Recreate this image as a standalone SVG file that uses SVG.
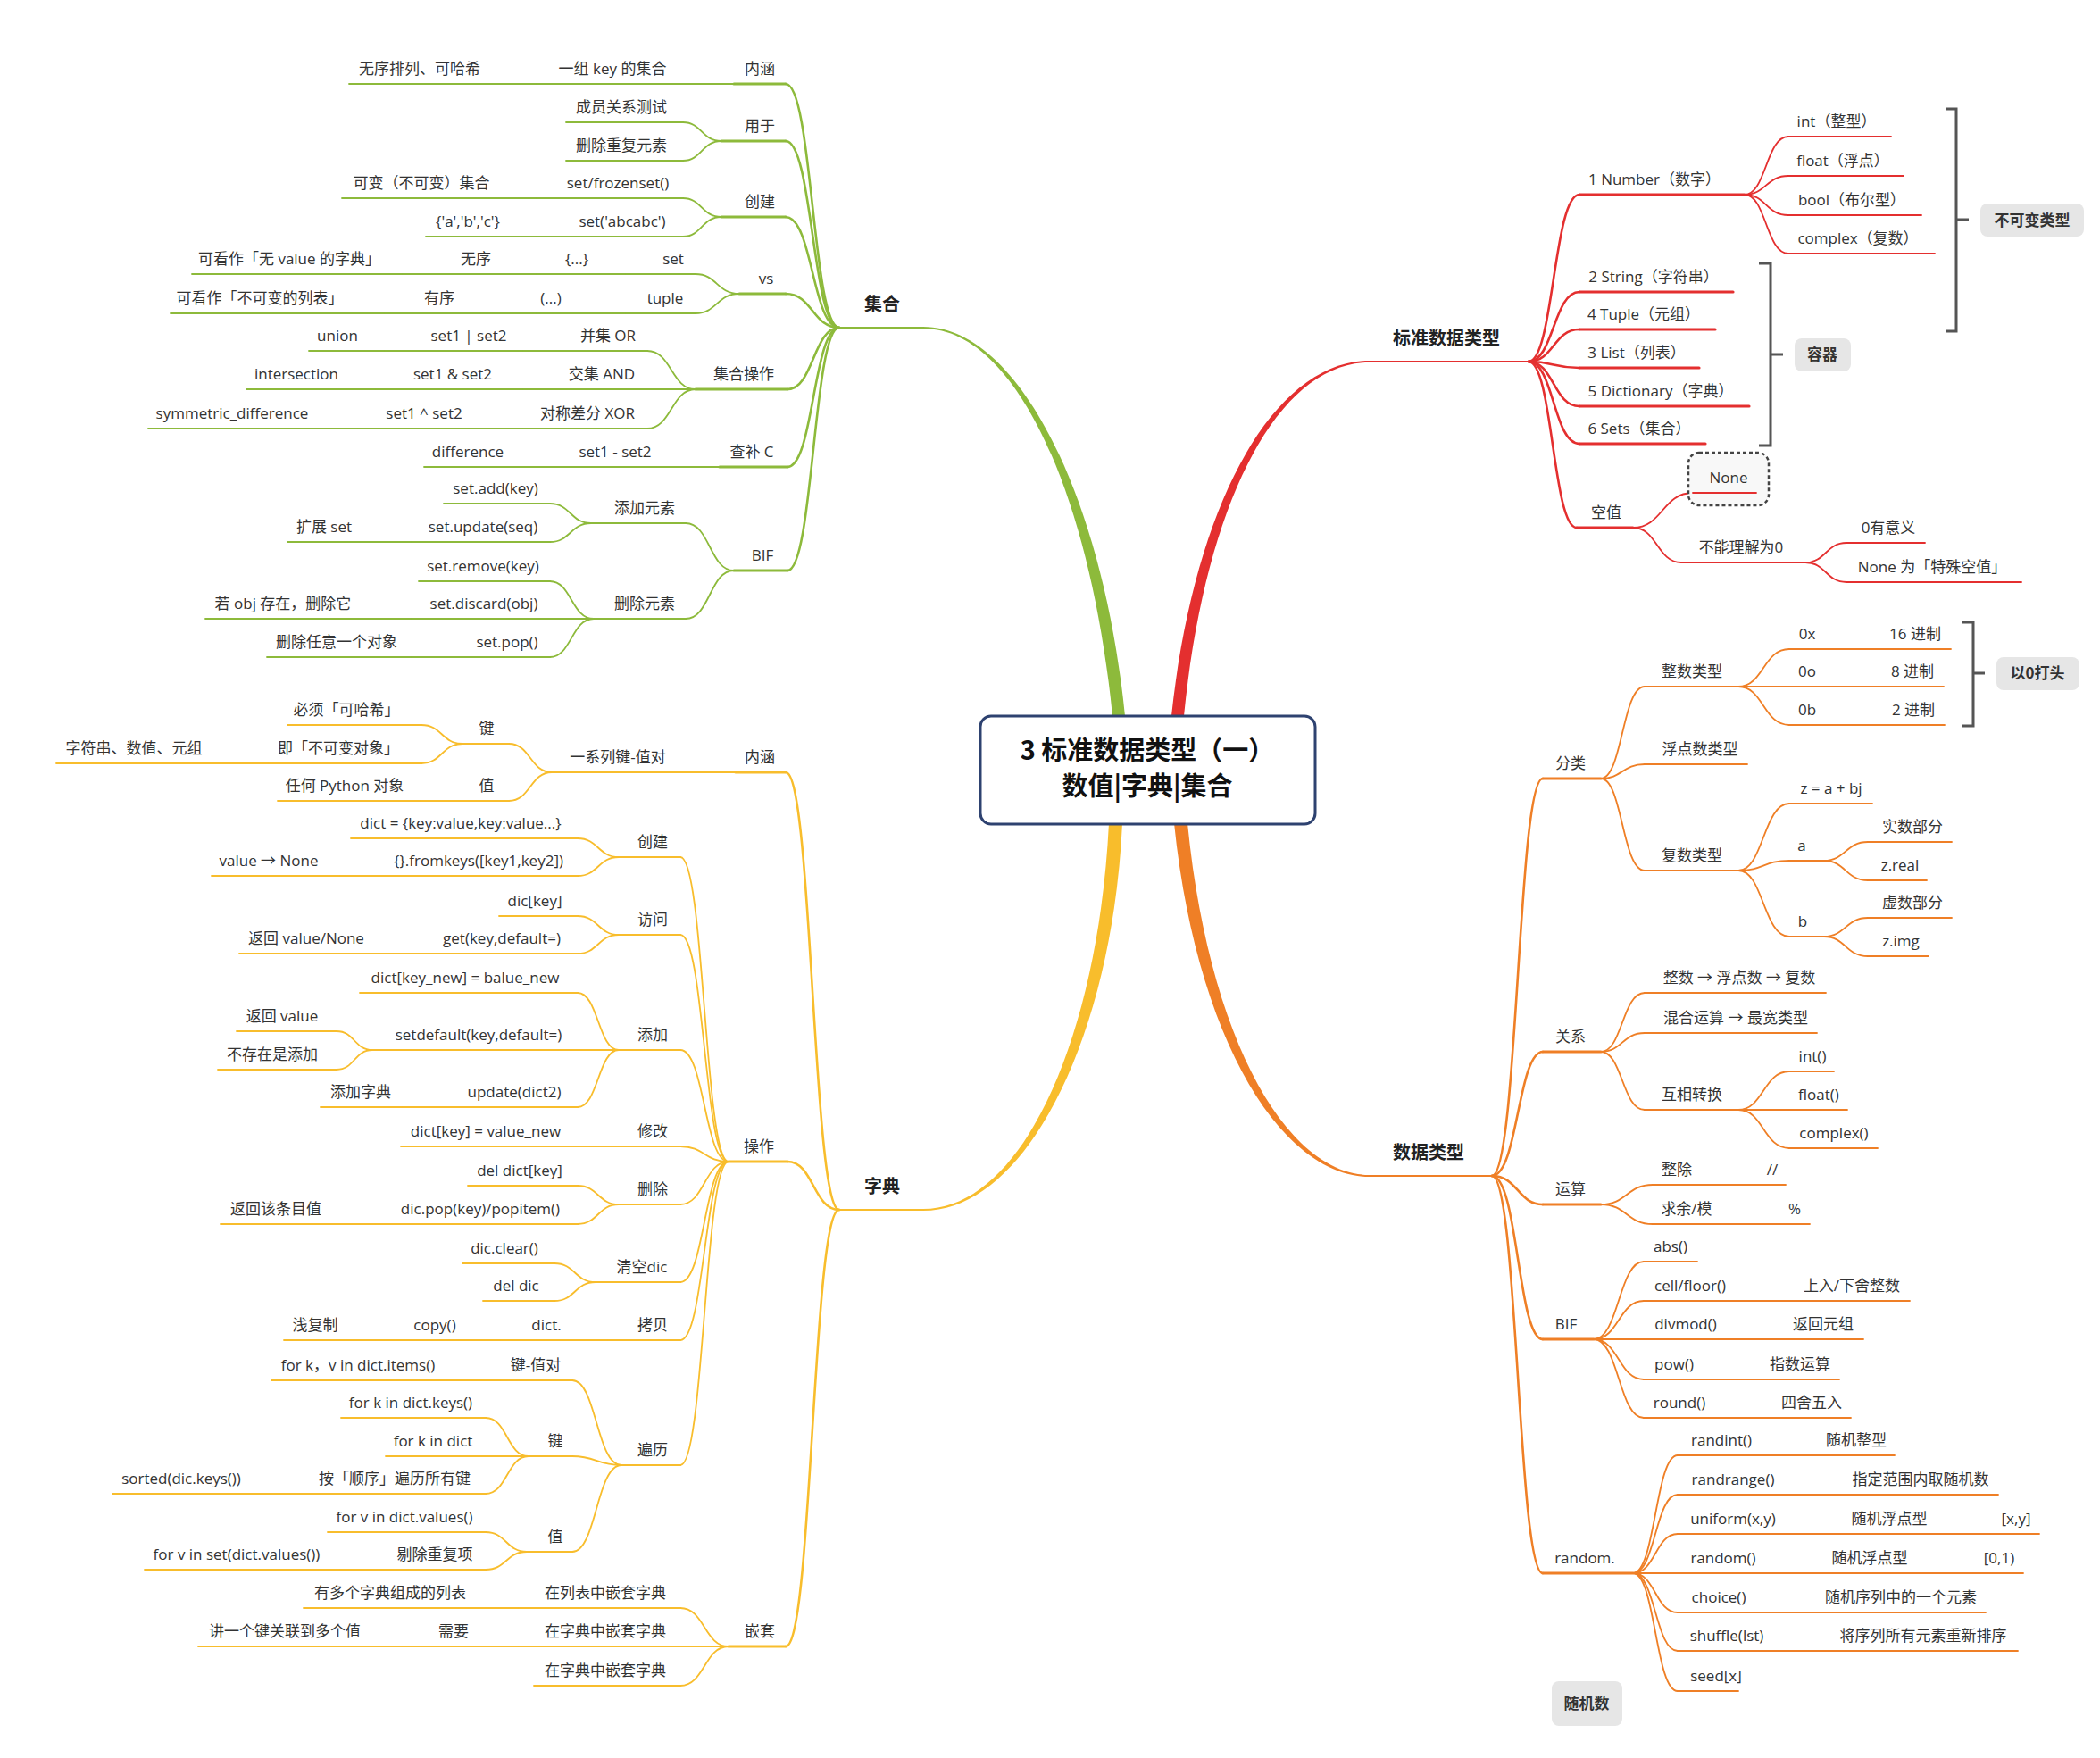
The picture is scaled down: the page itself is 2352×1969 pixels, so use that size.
<svg xmlns="http://www.w3.org/2000/svg" width="2352" height="1969" viewBox="0 0 2352 1969">
<style>
text{font-family:"Open Sans","Noto Sans CJK SC",sans-serif;font-size:17px;fill:#333;text-anchor:middle}
.h{font-family:"Noto Sans CJK SC",sans-serif;font-size:20px;font-weight:700;fill:#222}
.tb{font-family:"Noto Sans CJK SC",sans-serif;font-weight:700;font-size:17px;fill:#333}
.ti{font-family:"Noto Sans CJK SC",sans-serif;font-weight:700;font-size:29px;fill:#111}
.c{fill:none;stroke-linecap:round}
.G{stroke:#8dba3b}.Y{stroke:#f8bd2c}.R{stroke:#e42f2f}.O{stroke:#ef7f26}
.w1{stroke-width:1.8}.w2{stroke-width:3.2}.w3{stroke-width:2.6}.w0{stroke-width:2.2}
.br{fill:none;stroke:#555;stroke-width:3}
.bx{fill:#e6e6e6}
</style>
<rect width="2352" height="1969" fill="#fff"/>
<g id="connectors">
<path fill="#8dba3b" d="M1034 366C1142 366 1236 560 1260 802L1246 802C1222 560 1140 368 1034 368Z"/>
<path fill="#e42f2f" d="M1534 404C1428 404 1338 560 1312 802L1326 802C1350 560 1432 406 1534 406Z"/>
<path fill="#ef7f26" d="M1534 1318C1436 1318 1340 1165 1315 922L1330 922C1354 1165 1442 1316 1534 1316Z"/>
<path fill="#f8bd2c" d="M1034 1356C1150 1356 1246 1160 1257 922L1242 922C1230 1160 1146 1354 1034 1354Z"/>
<g class="c G w3">
<path d="M940 367C910 367 910 94 880 94"/><path d="M940 367C910 367 910 158 880 158"/><path d="M940 367C910 367 910 243 880 243"/><path d="M940 367C910 367 910 329 880 329"/><path d="M940 367C911 367 911 436 882 436"/><path d="M940 367C911 367 911 523 882 523"/><path d="M940 367C911 367 911 639 882 639"/>
</g>
<g class="c G w1">
<path d="M808 158C786 158 786 137 765 137"/><path d="M808 158C786 158 786 180 765 180"/>
<path d="M808 243C786 243 786 222 765 222"/><path d="M808 243C786 243 786 265 765 265"/>
<path d="M828 329C803 329 803 307 779 307"/><path d="M828 329C803 329 803 351 779 351"/>
<path d="M779 436C752 436 752 393 725 393"/><path d="M779 436C752 436 752 480 725 480"/>
<path d="M822 639C795 639 795 586 768 586"/><path d="M822 639C795 639 795 693 768 693"/>
<path d="M662 586C639 586 639 564 616 564"/><path d="M662 586C639 586 639 607 616 607"/>
<path d="M665 693C640 693 640 651 616 651"/><path d="M665 693C640 693 640 736 616 736"/>
</g>
<g class="c Y w3">
<path d="M940 1355C910 1355 910 865 880 865"/><path d="M940 1355C911 1355 911 1301 882 1301"/><path d="M940 1355C910 1355 910 1844 880 1844"/>
</g>
<g class="c Y w1">
<path d="M618 865C594 865 594 833 570 833"/><path d="M618 865C594 865 594 897 570 897"/>
<path d="M518 833C495 833 495 812 472 812"/><path d="M518 833C495 833 495 855 472 855"/>
<path d="M816 1301C789 1301 789 960 762 960"/><path d="M816 1301C789 1301 789 1047 762 1047"/><path d="M816 1301C789 1301 789 1176 762 1176"/><path d="M816 1301C789 1301 789 1284 762 1284"/><path d="M816 1301C789 1301 789 1349 762 1349"/><path d="M816 1301C789 1301 789 1436 762 1436"/><path d="M816 1301C789 1301 789 1501 762 1501"/><path d="M816 1301C789 1301 789 1641 762 1641"/>
<path d="M693 960C670 960 670 939 647 939"/><path d="M693 960C670 960 670 981 647 981"/>
<path d="M693 1047C670 1047 670 1026 647 1026"/><path d="M693 1047C670 1047 670 1068 647 1068"/>
<path d="M693 1176C670 1176 670 1112 647 1112"/><path d="M693 1176C670 1176 670 1240 647 1240"/>
<path d="M417 1176C397 1176 397 1155 377 1155"/><path d="M417 1176C397 1176 397 1198 377 1198"/>
<path d="M693 1349C670 1349 670 1328 647 1328"/><path d="M693 1349C670 1349 670 1371 647 1371"/>
<path d="M667 1436C644 1436 644 1415 621 1415"/><path d="M667 1436C644 1436 644 1457 621 1457"/>
<path d="M696 1641C668 1641 668 1546 641 1546"/><path d="M696 1641C668 1641 668 1631 641 1631"/><path d="M696 1641C668 1641 668 1738 641 1738"/>
<path d="M592 1631C568 1631 568 1588 544 1588"/><path d="M592 1631C568 1631 568 1673 544 1673"/>
<path d="M590 1738C567 1738 567 1716 544 1716"/><path d="M590 1738C567 1738 567 1758 544 1758"/>
<path d="M816 1844C789 1844 789 1801 762 1801"/><path d="M816 1844C789 1844 789 1888 762 1888"/>
</g>
<g class="c R w3">
<path d="M1712 405C1740 405 1740 218 1769 218"/><path d="M1712 405C1740 405 1740 327 1769 327"/><path d="M1712 405C1740 405 1740 369 1769 369"/><path d="M1712 405C1740 405 1740 412 1769 412"/><path d="M1712 405C1740 405 1740 455 1769 455"/><path d="M1712 405C1740 405 1740 497 1769 497"/><path d="M1712 405C1739 405 1739 591 1766 591"/>
</g>
<g class="c R w1">
<path d="M1954 218C1978 218 1978 153 2003 153"/><path d="M1954 218C1978 218 1978 197 2003 197"/><path d="M1954 218C1978 218 1978 241 2003 241"/><path d="M1954 218C1978 218 1978 284 2003 284"/>
<path d="M1829 591C1862 591 1862 552 1896 552"/><path d="M1829 591C1856 591 1856 630 1883 630"/>
<path d="M2022 630C2045 630 2045 608 2068 608"/><path d="M2022 630C2045 630 2045 652 2068 652"/>
</g>
<g class="c O w3">
<path d="M1671 1317C1700 1317 1700 872 1728 872"/><path d="M1671 1317C1700 1317 1700 1178 1728 1178"/><path d="M1671 1317C1700 1317 1700 1349 1728 1349"/><path d="M1671 1317C1700 1317 1700 1500 1728 1500"/><path d="M1671 1317C1700 1317 1700 1762 1728 1762"/>
</g>
<g class="c O w1">
<path d="M1793 872C1817 872 1817 769 1842 769"/><path d="M1793 872C1817 872 1817 856 1842 856"/><path d="M1793 872C1817 872 1817 975 1842 975"/>
<path d="M1947 769C1975 769 1975 727 2004 727"/><path d="M1947 769H2004"/><path d="M1947 769C1975 769 1975 812 2004 812"/>
<path d="M1947 975C1975 975 1975 900 2004 900"/><path d="M1947 975C1975 975 1975 964 2004 964"/><path d="M1947 975C1975 975 1975 1049 2004 1049"/>
<path d="M2043 964C2067 964 2067 943 2092 943"/><path d="M2043 964C2067 964 2067 986 2092 986"/>
<path d="M2043 1049C2067 1049 2067 1028 2092 1028"/><path d="M2043 1049C2067 1049 2067 1071 2092 1071"/>
<path d="M1793 1178C1817 1178 1817 1112 1842 1112"/><path d="M1793 1178C1817 1178 1817 1157 1842 1157"/><path d="M1793 1178C1817 1178 1817 1243 1842 1243"/>
<path d="M1947 1243C1975 1243 1975 1200 2004 1200"/><path d="M1947 1243H2004"/><path d="M1947 1243C1975 1243 1975 1286 2004 1286"/>
<path d="M1793 1349C1822 1349 1822 1327 1851 1327"/><path d="M1793 1349C1822 1349 1822 1371 1851 1371"/>
<path d="M1785 1500C1813 1500 1813 1413 1841 1413"/><path d="M1785 1500C1813 1500 1813 1457 1841 1457"/><path d="M1785 1500C1813 1500 1813 1545 1841 1545"/><path d="M1785 1500C1813 1500 1813 1588 1841 1588"/>
<path d="M1829 1762C1854 1762 1854 1630 1879 1630"/><path d="M1829 1762C1854 1762 1854 1674 1879 1674"/><path d="M1829 1762C1854 1762 1854 1718 1879 1718"/><path d="M1829 1762C1854 1762 1854 1806 1879 1806"/><path d="M1829 1762C1854 1762 1854 1849 1879 1849"/><path d="M1829 1762C1854 1762 1854 1894 1879 1894"/>
</g>
</g>

<g id="root"><rect x="1098" y="802" width="375" height="121" rx="12" fill="#fff" stroke="#2e4270" stroke-width="3"/><text class="ti" x="1285" y="851">3 标准数据类型（一）</text><text class="ti" x="1285" y="891">数值|字典|集合</text></g>

<!-- SET (green) -->
<g id="set"><path class="c G w0" d="M940 367H1034"/><text class="h" x="988" y="348">集合</text></g>
<g id="s1"><path class="c G w2" d="M822 94H880"/><text x="851" y="83">内涵</text></g>
<g id="s1a"><path class="c G w1" d="M600 94H822"/><text x="686" y="83">一组 key 的集合</text></g>
<g id="s1b"><path class="c G w1" d="M391 94H600"/><text x="470" y="83">无序排列、可哈希</text></g>
<g id="s2"><path class="c G w2" d="M808 158H880"/><text x="851" y="147">用于</text></g>
<g id="s2a"><path class="c G w1" d="M634 137H765"/><text x="696" y="126">成员关系测试</text></g>
<g id="s2b"><path class="c G w1" d="M634 180H765"/><text x="696" y="169">删除重复元素</text></g>
<g id="s3"><path class="c G w2" d="M808 243H880"/><text x="851" y="232">创建</text></g>
<g id="s3a"><path class="c G w1" d="M600 222H765"/><text x="692" y="211">set/frozenset()</text></g>
<g id="s3a1"><path class="c G w1" d="M383 222H600"/><text x="472" y="211">可变（不可变）集合</text></g>
<g id="s3b"><path class="c G w1" d="M600 265H765"/><text x="697" y="254">set('abcabc')</text></g>
<g id="s3b1"><path class="c G w1" d="M477 265H600"/><text x="524" y="254">{'a','b','c'}</text></g>
<g id="s4"><path class="c G w2" d="M828 329H880"/><text x="858" y="318">vs</text></g>
<g id="s4a"><path class="c G w1" d="M700 307H779"/><text x="754" y="296">set</text></g>
<g id="s4a1"><path class="c G w1" d="M600 307H700"/><text x="646" y="296">{...}</text></g>
<g id="s4a2"><path class="c G w1" d="M450 307H600"/><text x="533" y="296">无序</text></g>
<g id="s4a3"><path class="c G w1" d="M215 307H450"/><text x="324" y="296">可看作「无 value 的字典」</text></g>
<g id="s4b"><path class="c G w1" d="M700 351H779"/><text x="745" y="340">tuple</text></g>
<g id="s4b1"><path class="c G w1" d="M600 351H700"/><text x="617" y="340">(...)</text></g>
<g id="s4b2"><path class="c G w1" d="M430 351H600"/><text x="492" y="340">有序</text></g>
<g id="s4b3"><path class="c G w1" d="M191 351H430"/><text x="291" y="340">可看作「不可变的列表」</text></g>
<g id="s5"><path class="c G w2" d="M779 436H882"/><text x="833" y="425">集合操作</text></g>
<g id="s5a"><path class="c G w1" d="M585 393H725"/><text x="681" y="382">并集 OR</text></g>
<g id="s5a1"><path class="c G w1" d="M430 393H585"/><text x="525" y="382">set1 | set2</text></g>
<g id="s5a2"><path class="c G w1" d="M346 393H430"/><text x="378" y="382">union</text></g>
<g id="s5b"><path class="c G w1" d="M585 436H779"/><text x="674" y="425">交集 AND</text></g>
<g id="s5b1"><path class="c G w1" d="M420 436H585"/><text x="507" y="425">set1 &amp; set2</text></g>
<g id="s5b2"><path class="c G w1" d="M276 436H420"/><text x="332" y="425">intersection</text></g>
<g id="s5c"><path class="c G w1" d="M585 480H725"/><text x="658" y="469">对称差分 XOR</text></g>
<g id="s5c1"><path class="c G w1" d="M400 480H585"/><text x="475" y="469">set1 ^ set2</text></g>
<g id="s5c2"><path class="c G w1" d="M166 480H400"/><text x="260" y="469">symmetric_difference</text></g>
<g id="s6"><path class="c G w2" d="M806 523H882"/><text x="842" y="512">查补 C</text></g>
<g id="s6a"><path class="c G w1" d="M620 523H806"/><text x="689" y="512">set1 - set2</text></g>
<g id="s6b"><path class="c G w1" d="M475 523H620"/><text x="524" y="512">difference</text></g>
<g id="s7"><path class="c G w2" d="M822 639H882"/><text x="854" y="628">BIF</text></g>
<g id="s7a"><path class="c G w1" d="M662 586H768"/><text x="722" y="575">添加元素</text></g>
<g id="s7a1"><path class="c G w1" d="M497 564H616"/><text x="555" y="553">set.add(key)</text></g>
<g id="s7a2"><path class="c G w1" d="M460 607H616"/><text x="541" y="596">set.update(seq)</text></g>
<g id="s7a2a"><path class="c G w1" d="M322 607H460"/><text x="363" y="596">扩展 set</text></g>
<g id="s7b"><path class="c G w1" d="M665 693H768"/><text x="722" y="682">删除元素</text></g>
<g id="s7b1"><path class="c G w1" d="M469 651H616"/><text x="541" y="640">set.remove(key)</text></g>
<g id="s7b2"><path class="c G w1" d="M460 693H665"/><text x="542" y="682">set.discard(obj)</text></g>
<g id="s7b2a"><path class="c G w1" d="M230 693H460"/><text x="317" y="682">若 obj 存在，删除它</text></g>
<g id="s7b3"><path class="c G w1" d="M460 736H616"/><text x="568" y="725">set.pop()</text></g>
<g id="s7b3a"><path class="c G w1" d="M299 736H460"/><text x="377" y="725">删除任意一个对象</text></g>

<!-- DICT (yellow) -->
<g id="dict"><path class="c Y w0" d="M940 1355H1034"/><text class="h" x="988" y="1336">字典</text></g>
<g id="d1"><path class="c Y w2" d="M824 865H880"/><text x="851" y="854">内涵</text></g>
<g id="d1a"><path class="c Y w1" d="M618 865H824"/><text x="692" y="854">一系列键-值对</text></g>
<g id="d1a1"><path class="c Y w1" d="M518 833H570"/><text x="545" y="822">键</text></g>
<g id="d1a1a"><path class="c Y w1" d="M322 812H472"/><text x="388" y="801">必须「可哈希」</text></g>
<g id="d1a1b"><path class="c Y w1" d="M300 855H472"/><text x="379" y="844">即「不可变对象」</text></g>
<g id="d1a1b1"><path class="c Y w1" d="M63 855H300"/><text x="150" y="844">字符串、数值、元组</text></g>
<g id="d1a2"><path class="c Y w1" d="M470 897H570"/><text x="545" y="886">值</text></g>
<g id="d1a2a"><path class="c Y w1" d="M311 897H470"/><text x="386" y="886">任何 Python 对象</text></g>
<g id="d2"><path class="c Y w2" d="M816 1301H882"/><text x="850" y="1290">操作</text></g>
<g id="d2a"><path class="c Y w1" d="M693 960H762"/><text x="731" y="949">创建</text></g>
<g id="d2a1"><path class="c Y w1" d="M393 939H647"/><text x="516" y="928">dict = {key:value,key:value...}</text></g>
<g id="d2a2"><path class="c Y w1" d="M380 981H647"/><text x="536" y="970">{}.fromkeys([key1,key2])</text></g>
<g id="d2a2a"><path class="c Y w1" d="M237 981H380"/><text x="301" y="970">value → None</text></g>
<g id="d2b"><path class="c Y w1" d="M693 1047H762"/><text x="731" y="1036">访问</text></g>
<g id="d2b1"><path class="c Y w1" d="M559 1026H647"/><text x="599" y="1015">dic[key]</text></g>
<g id="d2b2"><path class="c Y w1" d="M440 1068H647"/><text x="562" y="1057">get(key,default=)</text></g>
<g id="d2b2a"><path class="c Y w1" d="M268 1068H440"/><text x="343" y="1057">返回 value/None</text></g>
<g id="d2c"><path class="c Y w1" d="M693 1176H762"/><text x="731" y="1165">添加</text></g>
<g id="d2c1"><path class="c Y w1" d="M403 1112H647"/><text x="521" y="1101">dict[key_new] = balue_new</text></g>
<g id="d2c2"><path class="c Y w1" d="M417 1176H693"/><text x="536" y="1165">setdefault(key,default=)</text></g>
<g id="d2c2a"><path class="c Y w1" d="M265 1155H377"/><text x="316" y="1144">返回 value</text></g>
<g id="d2c2b"><path class="c Y w1" d="M244 1198H377"/><text x="305" y="1187">不存在是添加</text></g>
<g id="d2c3"><path class="c Y w1" d="M450 1240H647"/><text x="576" y="1229">update(dict2)</text></g>
<g id="d2c3a"><path class="c Y w1" d="M359 1240H450"/><text x="404" y="1229">添加字典</text></g>
<g id="d2d"><path class="c Y w1" d="M660 1284H762"/><text x="731" y="1273">修改</text></g>
<g id="d2d1"><path class="c Y w1" d="M449 1284H660"/><text x="544" y="1273">dict[key] = value_new</text></g>
<g id="d2e"><path class="c Y w1" d="M693 1349H762"/><text x="731" y="1338">删除</text></g>
<g id="d2e1"><path class="c Y w1" d="M524 1328H647"/><text x="582" y="1317">del dict[key]</text></g>
<g id="d2e2"><path class="c Y w1" d="M420 1371H647"/><text x="538" y="1360">dic.pop(key)/popitem()</text></g>
<g id="d2e2a"><path class="c Y w1" d="M247 1371H420"/><text x="309" y="1360">返回该条目值</text></g>
<g id="d2f"><path class="c Y w1" d="M667 1436H762"/><text x="719" y="1425">清空dic</text></g>
<g id="d2f1"><path class="c Y w1" d="M518 1415H621"/><text x="565" y="1404">dic.clear()</text></g>
<g id="d2f2"><path class="c Y w1" d="M541 1457H621"/><text x="578" y="1446">del dic</text></g>
<g id="d2g"><path class="c Y w1" d="M680 1501H762"/><text x="731" y="1490">拷贝</text></g>
<g id="d2g1"><path class="c Y w1" d="M560 1501H680"/><text x="612" y="1490">dict.</text></g>
<g id="d2g2"><path class="c Y w1" d="M420 1501H560"/><text x="487" y="1490">copy()</text></g>
<g id="d2g3"><path class="c Y w1" d="M318 1501H420"/><text x="353" y="1490">浅复制</text></g>
<g id="d2h"><path class="c Y w1" d="M696 1641H762"/><text x="731" y="1630">遍历</text></g>
<g id="d2h1"><path class="c Y w1" d="M560 1546H641"/><text x="600" y="1535">键-值对</text></g>
<g id="d2h1a"><path class="c Y w1" d="M304 1546H560"/><text x="401" y="1535">for k，v in dict.items()</text></g>
<g id="d2h2"><path class="c Y w1" d="M592 1631H641"/><text x="622" y="1620">键</text></g>
<g id="d2h2a"><path class="c Y w1" d="M382 1588H544"/><text x="460" y="1577">for k in dict.keys()</text></g>
<g id="d2h2b"><path class="c Y w1" d="M432 1631H592"/><text x="485" y="1620">for k in dict</text></g>
<g id="d2h2c"><path class="c Y w1" d="M340 1673H544"/><text x="442" y="1662">按「顺序」遍历所有键</text></g>
<g id="d2h2c1"><path class="c Y w1" d="M126 1673H340"/><text x="203" y="1662">sorted(dic.keys())</text></g>
<g id="d2h3"><path class="c Y w1" d="M590 1738H641"/><text x="622" y="1727">值</text></g>
<g id="d2h3a"><path class="c Y w1" d="M367 1716H544"/><text x="453" y="1705">for v in dict.values()</text></g>
<g id="d2h3b"><path class="c Y w1" d="M380 1758H544"/><text x="487" y="1747">剔除重复项</text></g>
<g id="d2h3b1"><path class="c Y w1" d="M162 1758H380"/><text x="265" y="1747">for v in set(dict.values())</text></g>
<g id="d3"><path class="c Y w2" d="M816 1844H880"/><text x="851" y="1833">嵌套</text></g>
<g id="d3a"><path class="c Y w1" d="M580 1801H762"/><text x="678" y="1790">在列表中嵌套字典</text></g>
<g id="d3a1"><path class="c Y w1" d="M340 1801H580"/><text x="437" y="1790">有多个字典组成的列表</text></g>
<g id="d3b"><path class="c Y w1" d="M580 1844H816"/><text x="678" y="1833">在字典中嵌套字典</text></g>
<g id="d3b1"><path class="c Y w1" d="M450 1844H580"/><text x="508" y="1833">需要</text></g>
<g id="d3b1a"><path class="c Y w1" d="M222 1844H450"/><text x="319" y="1833">讲一个键关联到多个值</text></g>
<g id="d3c"><path class="c Y w1" d="M598 1888H762"/><text x="678" y="1877">在字典中嵌套字典</text></g>

<!-- STANDARD TYPES (red) -->
<g id="std"><path class="c R w0" d="M1530 405H1712"/><text class="h" x="1620" y="386">标准数据类型</text></g>
<g id="r1"><path class="c R w2" d="M1769 218H1954"/><text x="1853" y="207">1 Number（数字）</text></g>
<g id="r1a"><path class="c R w1" d="M2003 153H2118"/><text x="2057" y="142">int（整型）</text></g>
<g id="r1b"><path class="c R w1" d="M2003 197H2132"/><text x="2064" y="186">float（浮点）</text></g>
<g id="r1c"><path class="c R w1" d="M2003 241H2152"/><text x="2074" y="230">bool（布尔型）</text></g>
<g id="r1d"><path class="c R w1" d="M2003 284H2167"/><text x="2081" y="273">complex（复数）</text></g>
<g id="immut"><path class="br" d="M2179 122H2191V371H2179M2191 246H2205"/><rect class="bx" x="2218" y="228" width="116" height="37" rx="8"/><text class="tb" x="2276" y="253">不可变类型</text></g>
<g id="r2"><path class="c R w2" d="M1769 327H1941"/><text x="1852" y="316">2 String（字符串）</text></g>
<g id="r3"><path class="c R w2" d="M1769 369H1921"/><text x="1841" y="358">4 Tuple（元组）</text></g>
<g id="r4"><path class="c R w2" d="M1769 412H1903"/><text x="1833" y="401">3 List（列表）</text></g>
<g id="r5"><path class="c R w2" d="M1769 455H1959"/><text x="1860" y="444">5 Dictionary（字典）</text></g>
<g id="r6"><path class="c R w2" d="M1769 497H1910"/><text x="1836" y="486">6 Sets（集合）</text></g>
<g id="container"><path class="br" d="M1970 295H1983V499H1970M1983 397H1997"/><rect class="bx" x="2010" y="379" width="63" height="37" rx="8"/><text class="tb" x="2041" y="403">容器</text></g>
<g id="r7"><path class="c R w2" d="M1766 591H1829"/><text x="1799" y="580">空值</text></g>
<g id="r7a"><rect x="1891" y="507" width="90" height="59" rx="12" fill="#f8f8f8" stroke="#444" stroke-width="2.5" stroke-dasharray="4 3"/><path class="c R w1" d="M1896 552H1967"/><text x="1936" y="541">None</text></g>
<g id="r7b"><path class="c R w1" d="M1883 630H2022"/><text x="1950" y="619">不能理解为0</text></g>
<g id="r7b1"><path class="c R w1" d="M2068 608H2156"/><text x="2115" y="597">0有意义</text></g>
<g id="r7b2"><path class="c R w1" d="M2068 652H2264"/><text x="2164" y="641">None 为「特殊空值」</text></g>

<!-- DATA TYPES (orange) -->
<g id="dt"><path class="c O w0" d="M1530 1317H1671"/><text class="h" x="1600" y="1298">数据类型</text></g>
<g id="o1"><path class="c O w2" d="M1728 872H1793"/><text x="1759" y="861">分类</text></g>
<g id="o1a"><path class="c O w1" d="M1842 769H1947"/><text x="1895" y="758">整数类型</text></g>
<g id="o1a1"><path class="c O w1" d="M2004 727H2090"/><text x="2024" y="716">0x</text></g>
<g id="o1a1a"><path class="c O w1" d="M2090 727H2185"/><text x="2145" y="716">16 进制</text></g>
<g id="o1a2"><path class="c O w1" d="M2004 769H2090"/><text x="2024" y="758">0o</text></g>
<g id="o1a2a"><path class="c O w1" d="M2090 769H2177"/><text x="2142" y="758">8 进制</text></g>
<g id="o1a3"><path class="c O w1" d="M2004 812H2090"/><text x="2024" y="801">0b</text></g>
<g id="o1a3a"><path class="c O w1" d="M2090 812H2178"/><text x="2143" y="801">2 进制</text></g>
<g id="prefix0"><path class="br" d="M2197 697H2210V813H2197M2210 754H2223"/><rect class="bx" x="2236" y="736" width="93" height="37" rx="8"/><text class="tb" x="2282" y="760">以0打头</text></g>
<g id="o1b"><path class="c O w1" d="M1842 856H1957"/><text x="1904" y="845">浮点数类型</text></g>
<g id="o1c"><path class="c O w1" d="M1842 975H1947"/><text x="1895" y="964">复数类型</text></g>
<g id="o1c1"><path class="c O w1" d="M2004 900H2097"/><text x="2051" y="889">z = a + bj</text></g>
<g id="o1c2"><path class="c O w1" d="M2004 964H2043"/><text x="2018" y="953">a</text></g>
<g id="o1c2a"><path class="c O w1" d="M2092 943H2186"/><text x="2142" y="932">实数部分</text></g>
<g id="o1c2b"><path class="c O w1" d="M2092 986H2158"/><text x="2128" y="975">z.real</text></g>
<g id="o1c3"><path class="c O w1" d="M2004 1049H2043"/><text x="2019" y="1038">b</text></g>
<g id="o1c3a"><path class="c O w1" d="M2092 1028H2186"/><text x="2142" y="1017">虚数部分</text></g>
<g id="o1c3b"><path class="c O w1" d="M2092 1071H2160"/><text x="2129" y="1060">z.img</text></g>
<g id="o2"><path class="c O w2" d="M1728 1178H1793"/><text x="1759" y="1167">关系</text></g>
<g id="o2a"><path class="c O w1" d="M1842 1112H2045"/><text x="1948" y="1101">整数 → 浮点数 → 复数</text></g>
<g id="o2b"><path class="c O w1" d="M1842 1157H2035"/><text x="1944" y="1146">混合运算 → 最宽类型</text></g>
<g id="o2c"><path class="c O w1" d="M1842 1243H1947"/><text x="1895" y="1232">互相转换</text></g>
<g id="o2c1"><path class="c O w1" d="M2004 1200H2054"/><text x="2030" y="1189">int()</text></g>
<g id="o2c2"><path class="c O w1" d="M2004 1243H2069"/><text x="2037" y="1232">float()</text></g>
<g id="o2c3"><path class="c O w1" d="M2004 1286H2103"/><text x="2054" y="1275">complex()</text></g>
<g id="o3"><path class="c O w2" d="M1728 1349H1793"/><text x="1759" y="1338">运算</text></g>
<g id="o3a"><path class="c O w1" d="M1851 1327H1960"/><text x="1878" y="1316">整除</text></g>
<g id="o3a1"><path class="c O w1" d="M1960 1327H2000"/><text x="1985" y="1316">//</text></g>
<g id="o3b"><path class="c O w1" d="M1851 1371H1990"/><text x="1889" y="1360">求余/模</text></g>
<g id="o3b1"><path class="c O w1" d="M1990 1371H2027"/><text x="2010" y="1360">%</text></g>
<g id="o4"><path class="c O w2" d="M1728 1500H1785"/><text x="1754" y="1489">BIF</text></g>
<g id="o4a"><path class="c O w1" d="M1841 1413H1901"/><text x="1871" y="1402">abs()</text></g>
<g id="o4b"><path class="c O w1" d="M1841 1457H2005"/><text x="1893" y="1446">cell/floor()</text></g>
<g id="o4b1"><path class="c O w1" d="M2005 1457H2139"/><text x="2074" y="1446">上入/下舍整数</text></g>
<g id="o4c"><path class="c O w1" d="M1785 1500H1990"/><text x="1888" y="1489">divmod()</text></g>
<g id="o4c1"><path class="c O w1" d="M1990 1500H2087"/><text x="2042" y="1489">返回元组</text></g>
<g id="o4d"><path class="c O w1" d="M1841 1545H1970"/><text x="1875" y="1534">pow()</text></g>
<g id="o4d1"><path class="c O w1" d="M1970 1545H2060"/><text x="2016" y="1534">指数运算</text></g>
<g id="o4e"><path class="c O w1" d="M1841 1588H1980"/><text x="1881" y="1577">round()</text></g>
<g id="o4e1"><path class="c O w1" d="M1980 1588H2073"/><text x="2029" y="1577">四舍五入</text></g>
<g id="o5"><path class="c O w2" d="M1728 1762H1829"/><text x="1775" y="1751">random.</text></g>
<g id="o5a"><path class="c O w1" d="M1879 1630H2030"/><text x="1928" y="1619">randint()</text></g>
<g id="o5a1"><path class="c O w1" d="M2030 1630H2122"/><text x="2079" y="1619">随机整型</text></g>
<g id="o5b"><path class="c O w1" d="M1879 1674H2055"/><text x="1941" y="1663">randrange()</text></g>
<g id="o5b1"><path class="c O w1" d="M2055 1674H2238"/><text x="2151" y="1663">指定范围内取随机数</text></g>
<g id="o5c"><path class="c O w1" d="M1879 1718H2060"/><text x="1941" y="1707">uniform(x,y)</text></g>
<g id="o5c1"><path class="c O w1" d="M2060 1718H2230"/><text x="2116" y="1707">随机浮点型</text></g>
<g id="o5c1a"><path class="c O w1" d="M2230 1718H2284"/><text x="2258" y="1707">[x,y]</text></g>
<g id="o5d"><path class="c O w1" d="M1829 1762H2040"/><text x="1930" y="1751">random()</text></g>
<g id="o5d1"><path class="c O w1" d="M2040 1762H2210"/><text x="2094" y="1751">随机浮点型</text></g>
<g id="o5d1a"><path class="c O w1" d="M2210 1762H2266"/><text x="2239" y="1751">[0,1)</text></g>
<g id="o5e"><path class="c O w1" d="M1879 1806H2030"/><text x="1925" y="1795">choice()</text></g>
<g id="o5e1"><path class="c O w1" d="M2030 1806H2224"/><text x="2129" y="1795">随机序列中的一个元素</text></g>
<g id="o5f"><path class="c O w1" d="M1879 1849H2045"/><text x="1934" y="1838">shuffle(lst)</text></g>
<g id="o5f1"><path class="c O w1" d="M2045 1849H2260"/><text x="2154" y="1838">将序列所有元素重新排序</text></g>
<g id="o5g"><path class="c O w1" d="M1879 1894H1947"/><text x="1922" y="1883">seed[x]</text></g>
<g id="randnum"><rect class="bx" x="1738" y="1883" width="79" height="50" rx="8"/><text class="tb" x="1777" y="1914">随机数</text></g>
</svg>
